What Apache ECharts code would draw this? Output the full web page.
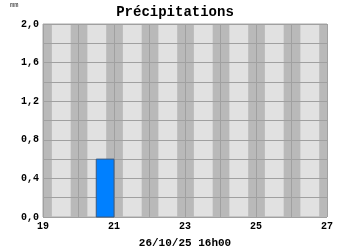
<!DOCTYPE html>
<html><head><meta charset="utf-8">
<script src="https://cdn.jsdelivr.net/npm/echarts@6/dist/echarts.min.js"></script>
<style>html,body{margin:0;padding:0;background:#fff}#c{width:350px;height:250px}</style>
</head><body><div id="c"></div>
<script>
const titleText = "Précipitations";
const unitText = "mm";
const xAxisTitle = "26/10/25 16h00";
const xMin = 19, xMax = 27;
const yMin = 0, yMax = 2;
// night bands (day units)
const nightStart = [18.78, 19.78, 20.78, 21.78, 22.78, 23.78, 24.78, 25.78, 26.78];
const nightEnd   = [19.25, 20.25, 21.25, 22.25, 23.25, 24.25, 25.25, 26.25, 27.25];
// precipitation periods
const precipStart = [20.5];
const precipEnd   = [21.0];
const precipValue = [0.6];

const chart = echarts.init(document.getElementById('c'), null, {renderer:'canvas'});
const mono = '"Liberation Mono", "DejaVu Sans Mono", monospace';

const nightData = nightStart.map((s,i)=>[s, nightEnd[i]]);
const precipData = precipStart.map((s,i)=>[s, precipEnd[i], precipValue[i]]);

chart.setOption({
  animation:false,
  backgroundColor:'#ffffff',
  title:{text:titleText, left:'center', top:0,
    textStyle:{fontFamily:mono, fontWeight:'bold', fontSize:14, color:'#000'}},
  graphic:[{type:'text', left:10, top:2, style:{text:unitText, font:'7px ' + mono, fill:'#333'}}],
  grid:{left:43, right:23, top:24, bottom:33, outerBoundsMode:'none', containLabel:false,
    show:true, backgroundColor:'#e1e1e1', borderColor:'#a8a8a8', borderWidth:1},
  xAxis:{type:'value', min:xMin, max:xMax, interval:1, z:3,
    name:xAxisTitle, nameLocation:'middle', nameGap:21,
    nameTextStyle:{fontFamily:mono, fontWeight:'bold', fontSize:11, color:'#000'},
    axisLine:{show:false}, axisTick:{show:false},
    axisLabel:{margin:4, fontFamily:mono, fontWeight:'bold', fontSize:10, color:'#000',
      formatter:v=> (Math.round(v-xMin)%2===0 ? String(v) : '')},
    splitLine:{show:true, lineStyle:{color:'#a0a0a0', width:1}}},
  yAxis:{type:'value', min:yMin, max:yMax, interval:0.2, z:3,
    axisLine:{show:false}, axisTick:{show:false},
    axisLabel:{margin:4, fontFamily:mono, fontWeight:'bold', fontSize:10, color:'#000',
      formatter:v=> (Math.round(v*10)%4===0 ? v.toFixed(1).replace('.',',') : '')},
    splitLine:{show:true, lineStyle:{color:'#a0a0a0', width:1}}},
  series:[
    {type:'custom', data:nightData, clip:true, z:1, silent:true,
      encode:{x:[0,1]},
      renderItem:(params, api)=>{
        const p0 = api.coord([api.value(0), yMax]);
        const p1 = api.coord([api.value(1), yMin]);
        return {type:'rect', shape:echarts.graphic.clipRectByRect(
          {x:p0[0], y:p0[1], width:p1[0]-p0[0], height:p1[1]-p0[1]},
          {x:params.coordSys.x, y:params.coordSys.y, width:params.coordSys.width, height:params.coordSys.height}),
          style:{fill:'#b9b9b9'}};
      }},
    {type:'custom', data:precipData, z:5,
      encode:{x:[0,1], y:2},
      renderItem:(params, api)=>{
        const p0 = api.coord([api.value(0), api.value(2)]);
        const p1 = api.coord([api.value(1), 0]);
        return {type:'rect', shape:{x:p0[0], y:p0[1], width:p1[0]-p0[0], height:p1[1]-p0[1]},
          style:{fill:'#0080ff', stroke:'#3a5a80', lineWidth:1}};
      }}
  ]
});
</script></body></html>
